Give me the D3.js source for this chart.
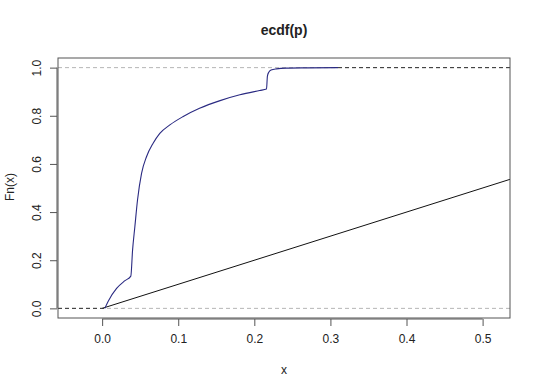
<!DOCTYPE html>
<html lang="en">
<head>
<meta charset="UTF-8">
<title>ecdf(p)</title>
<script src="https://cdnjs.cloudflare.com/ajax/libs/d3/7.8.5/d3.min.js"></script>
<style>
body { margin: 0; background: #fff; }
svg text { font-family: "Liberation Sans", Arial, sans-serif; fill: #222; }
.axis text { font-size: 12px; }
.axis path, .axis line { stroke: #555; }
</style>
</head>
<body>
<div id="chart"></div>
<script>
// ecdf knots
var xVals = [0.0035, 0.008, 0.019, 0.030, 0.0377, 0.040, 0.043, 0.0465, 0.0518, 0.0583, 0.067,
             0.0758, 0.089, 0.106, 0.128, 0.155, 0.181, 0.207, 0.216, 0.2172, 0.219, 0.222,
             0.229, 0.242, 0.27, 0.31];
var fnVals = [0, 0.03, 0.083, 0.115, 0.134, 0.242, 0.339, 0.45, 0.561, 0.630, 0.686,
              0.727, 0.762, 0.796, 0.831, 0.863, 0.887, 0.905, 0.911, 0.965, 0.981, 0.990,
              0.995, 0.998, 0.999, 1.0];
var xTicks = [0, 0.1, 0.2, 0.3, 0.4, 0.5];
var yTicks = [0, 0.2, 0.4, 0.6, 0.8, 1.0];

var width = 540, height = 391;
var pLeft = 58, pRight = 510, pTop = 58, pBottom = 318;

var x = d3.scaleLinear().domain([-0.058, 0.536]).range([pLeft, pRight]);
var y = d3.scaleLinear().domain([-0.04, 1.04]).range([pBottom, pTop]);

var svg = d3.select('#chart').append('svg')
  .attr('width', width)
  .attr('height', height);

// grey reference lines at 0 and 1
svg.selectAll('.href')
  .data([0, 1])
  .enter()
  .append('line')
  .attr('x1', pLeft).attr('x2', pRight)
  .attr('y1', function(d){ return y(d); })
  .attr('y2', function(d){ return y(d); })
  .attr('stroke', '#b5b5b5')
  .attr('stroke-dasharray', '4,3');

// y = x line
var xd = x.domain();
svg.append('line')
  .attr('x1', x(0)).attr('y1', y(0))
  .attr('x2', x(xd[1])).attr('y2', y(xd[1]))
  .attr('stroke', '#111')
  .attr('stroke-width', 1);

// dark dashed extensions of the step function
svg.append('line')
  .attr('x1', pLeft).attr('x2', x(xVals[0]))
  .attr('y1', y(0)).attr('y2', y(0))
  .attr('stroke', '#333').attr('stroke-dasharray', '4,3');
svg.append('line')
  .attr('x1', x(xVals[xVals.length - 1])).attr('x2', pRight)
  .attr('y1', y(1)).attr('y2', y(1))
  .attr('stroke', '#333').attr('stroke-dasharray', '4,3');

// ecdf curve
var pts = xVals.map(function(d, i){ return [d, fnVals[i]]; });
var line = d3.line()
  .x(function(d){ return x(d[0]); })
  .y(function(d){ return y(d[1]); })
  .curve(d3.curveMonotoneX);

svg.append('path')
  .datum(pts)
  .attr('d', line)
  .attr('fill', 'none')
  .attr('stroke', '#2a2a82')
  .attr('stroke-width', 1.1);

// box
svg.append('rect')
  .attr('x', pLeft).attr('y', pTop)
  .attr('width', pRight - pLeft).attr('height', pBottom - pTop)
  .attr('fill', 'none')
  .attr('stroke', '#555');

// axes
var xAxis = svg.append('g')
  .attr('class', 'axis')
  .attr('transform', 'translate(0,' + (pBottom + 1) + ')')
  .call(d3.axisBottom(x).tickValues(xTicks).tickFormat(d3.format('.1f')).tickSize(7).tickPadding(6));
xAxis.select('.domain').attr('d', 'M' + x(0) + ',0H' + x(0.5));
xAxis.selectAll('text').attr('dy', '0.71em').attr('y', 15);

var yAxis = svg.append('g')
  .attr('class', 'axis')
  .attr('transform', 'translate(' + (pLeft - 1) + ',0)')
  .call(d3.axisLeft(y).tickValues(yTicks).tickFormat(d3.format('.1f')).tickSize(7));
yAxis.select('.domain').attr('d', 'M0,' + y(0) + 'V' + y(1));
yAxis.selectAll('.tick text')
  .attr('x', 0).attr('dy', 0)
  .attr('text-anchor', 'middle')
  .attr('transform', 'translate(-16,0) rotate(-90)');

// titles
svg.append('text')
  .attr('x', 284).attr('y', 35)
  .attr('text-anchor', 'middle')
  .style('font-size', '14px')
  .style('font-weight', 'bold')
  .text('ecdf(p)');

svg.append('text')
  .attr('x', 284).attr('y', 374)
  .attr('text-anchor', 'middle')
  .style('font-size', '12px')
  .text('x');

svg.append('text')
  .attr('transform', 'translate(14,187) rotate(-90)')
  .attr('text-anchor', 'middle')
  .style('font-size', '12px')
  .text('Fn(x)');
</script>
</body>
</html>
